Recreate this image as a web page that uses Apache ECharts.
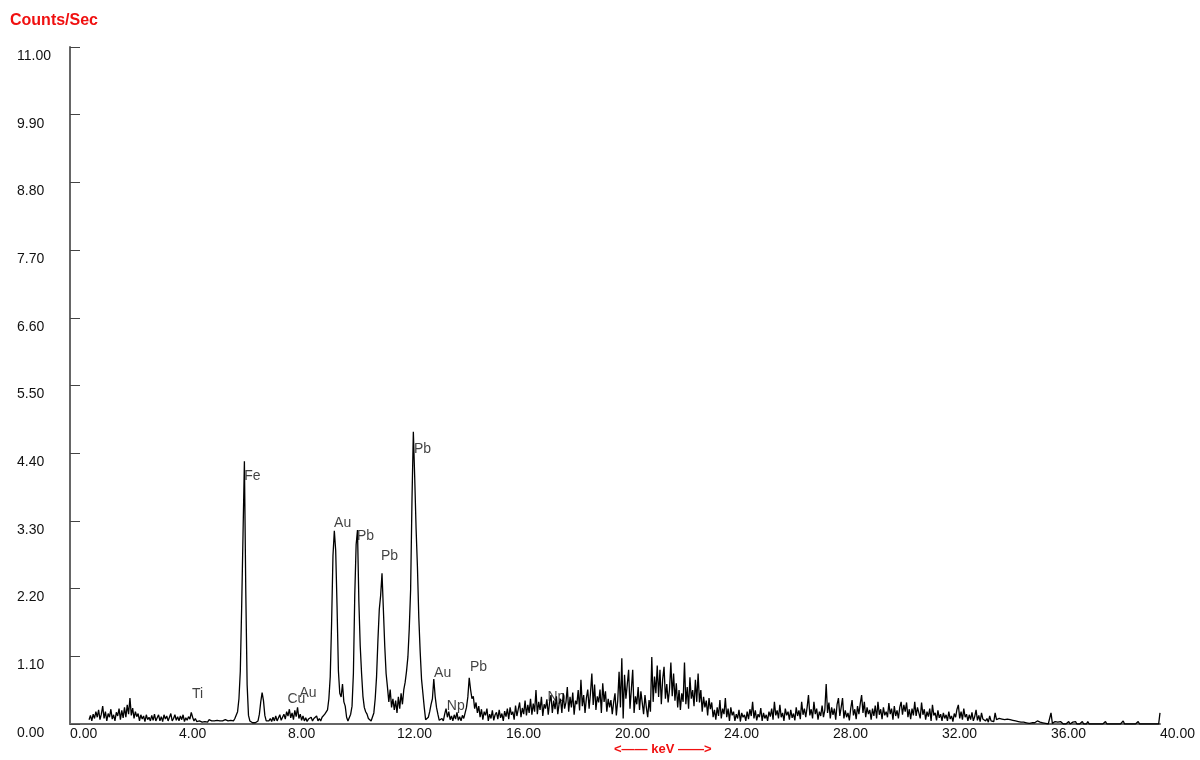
<!DOCTYPE html>
<html>
<head>
<meta charset="utf-8">
<script src="https://cdn.jsdelivr.net/npm/echarts@6/dist/echarts.min.js"></script>
<style>
  html, body { margin: 0; padding: 0; background: #fff; }
  #chart { width: 1200px; height: 760px; }
</style>
</head>
<body>
<div id="chart"></div>
<script>
// spectrum channels: first channel at 0.70 keV, 0.05 keV per channel
const KEV_START = 0.7;
const KEV_STEP = 0.05;

// 0.70 - 9.95 keV (Fe, Cu, Au region)
const countsLow = [
  0.07,0.14,0.05,0.16,0.09,0.20,
  0.11,0.23,0.07,0.16,0.29,0.09,0.20,0.05,0.17,0.11,0.24,0.08,0.15,0.05,0.19,0.13,0.25,0.07,0.22,0.10,
  0.27,0.11,0.31,0.16,0.42,0.14,0.26,0.09,0.20,0.12,0.17,0.05,0.15,0.08,0.13,0.04,0.15,0.07,0.11,0.05,
  0.14,0.06,0.16,0.05,0.10,0.15,0.05,0.12,0.04,0.15,0.08,0.13,0.05,0.11,0.17,0.05,0.09,0.15,0.06,0.12,
  0.05,0.13,0.07,0.15,0.04,0.10,0.06,0.12,0.08,0.19,0.11,0.05,0.09,0.04,0.07,0.05,0.08,0.03,0.06,0.04,
  0.05,0.03,0.07,0.04,0.05,0.02,0.05,0.03,0.06,0.04,0.05,0.02,0.05,0.03,0.07,0.04,0.05,0.03,0.06,0.05,
  0.05,0.09,0.11,0.20,0.41,0.86,1.91,3.09,4.27,2.18,0.64,0.14,0.05,0.03,0.02,0.03,0.02,0.04,0.05,0.16,
  0.36,0.51,0.38,0.14,0.05,0.03,0.05,0.09,0.04,0.11,0.05,0.13,0.05,0.08,0.15,0.06,0.11,0.16,0.08,0.20,
  0.13,0.24,0.10,0.18,0.07,0.22,0.12,0.27,0.09,0.16,0.06,0.13,0.05,0.10,0.04,0.08,0.05,0.11,0.05,0.09,
  0.07,0.13,0.05,0.09,0.05,0.11,0.08,0.16,0.14,0.23,0.41,0.77,1.64,2.73,3.14,2.82,1.91,0.86,0.50,0.44
];

// 10.00 - 24.95 keV (Pb lines and the broad hump)
const countsMid = [
  0.65,0.36,0.29,0.11,0.05,0.08,0.16,0.29,0.82,2.09,2.91,3.15,2.00,1.27,0.82,0.45,0.27,0.20,0.16,0.09,
  0.07,0.05,0.08,0.18,0.41,0.77,1.36,1.86,2.09,2.45,1.86,1.27,0.82,0.60,0.36,0.56,0.27,0.41,0.23,0.38,
  0.18,0.44,0.25,0.50,0.32,0.56,0.68,0.86,1.09,1.55,2.18,3.64,4.75,4.00,3.18,2.55,1.73,1.18,0.73,0.50,
  0.27,0.07,0.05,0.11,0.20,0.32,0.41,0.73,0.45,0.27,0.16,0.06,0.04,0.09,0.05,0.16,0.25,0.11,0.20,0.07,
  0.13,0.05,0.15,0.08,0.19,0.06,0.12,0.05,0.14,0.09,0.18,0.27,0.44,0.75,0.56,0.41,0.45,0.25,0.35,0.18,
  0.29,0.11,0.24,0.07,0.20,0.14,0.25,0.05,0.16,0.09,0.22,0.06,0.15,0.19,0.08,0.23,0.10,0.17,0.05,0.21,
  0.12,0.25,0.08,0.27,0.15,0.20,0.07,0.30,0.13,0.24,0.35,0.11,0.26,0.16,0.38,0.14,0.31,0.18,0.41,0.15,
  0.33,0.20,0.55,0.16,0.36,0.23,0.44,0.13,0.32,0.25,0.40,0.15,0.35,0.47,0.18,0.38,0.24,0.45,0.16,0.33,
  0.41,0.18,0.50,0.25,0.35,0.60,0.20,0.44,0.27,0.51,0.15,0.38,0.32,0.55,0.22,0.72,0.29,0.47,0.18,0.42,
  0.56,0.25,0.50,0.82,0.31,0.64,0.23,0.45,0.35,0.56,0.18,0.66,0.36,0.53,0.20,0.41,0.27,0.39,0.16,0.35,
  0.50,0.14,0.38,0.85,0.27,1.07,0.09,0.80,0.41,0.64,0.88,0.25,0.56,0.88,0.18,0.45,0.32,0.60,0.23,0.53,
  0.55,0.16,0.47,0.27,0.11,0.39,0.20,1.09,0.36,0.77,0.50,0.95,0.44,0.88,0.32,0.73,0.93,0.41,0.65,0.35,
  0.56,1.00,0.45,0.82,0.38,0.66,0.27,0.55,0.23,0.50,0.36,1.00,0.32,0.60,0.25,0.76,0.41,0.55,0.29,0.72,
  0.36,0.82,0.35,0.55,0.20,0.44,0.27,0.38,0.14,0.42,0.24,0.35,0.11,0.23,0.07,0.27,0.13,0.39,0.09,0.25,
  0.16,0.42,0.11,0.25,0.05,0.27,0.14,0.20,0.05,0.16,0.09,0.23,0.04,0.18,0.11,0.15,0.05,0.20,0.08,0.24
];

// 25.00 - 40.00 keV (tail)
const countsHigh = [
  0.13,0.36,0.09,0.22,0.06,0.16,0.11,0.26,0.05,0.18,0.09,0.15,0.05,0.20,0.12,0.25,0.07,0.36,0.14,0.22,
  0.09,0.31,0.11,0.18,0.05,0.25,0.14,0.20,0.07,0.23,0.10,0.17,0.06,0.27,0.13,0.22,0.08,0.36,0.15,0.25,
  0.11,0.27,0.47,0.14,0.24,0.09,0.36,0.16,0.25,0.07,0.20,0.13,0.30,0.11,0.23,0.65,0.18,0.35,0.09,0.27,
  0.15,0.25,0.07,0.32,0.42,0.13,0.27,0.42,0.09,0.22,0.11,0.18,0.06,0.25,0.39,0.14,0.24,0.08,0.29,0.16,
  0.33,0.47,0.18,0.36,0.11,0.27,0.16,0.23,0.07,0.25,0.13,0.30,0.09,0.36,0.15,0.24,0.08,0.27,0.14,0.20,
  0.11,0.34,0.16,0.25,0.07,0.29,0.13,0.22,0.09,0.27,0.36,0.15,0.31,0.20,0.35,0.11,0.24,0.08,0.25,0.14,
  0.36,0.13,0.27,0.18,0.09,0.35,0.15,0.24,0.07,0.20,0.12,0.25,0.05,0.31,0.14,0.18,0.06,0.22,0.10,0.16,
  0.05,0.18,0.09,0.15,0.05,0.20,0.08,0.13,0.04,0.17,0.11,0.24,0.31,0.09,0.20,0.07,0.25,0.11,0.16,0.05,
  0.15,0.07,0.19,0.05,0.12,0.23,0.06,0.14,0.04,0.18,0.08,0.11,0.05,0.09,0.03,0.13,0.05,0.08,0.04,0.18,
  0.07,0.05,0.09,0.06,0.08,0.05,0.07,0.06,0.08,0.05,0.07,0.05,0.06,0.03,0.05,0.02,0.04,0.02,0.03,0.01,
  0.03,0.01,0.02,0.04,0.01,0.03,0.02,0.05,0.02,0.04,0.05,0.02,0.03,0.01,0.02,0.04,0.01,0.02,0.00,0.02,
  0.18,0.01,0.02,0.04,0.01,0.03,0.00,0.04,0.01,0.00,0.03,0.00,0.01,0.04,0.00,0.00,0.03,0.00,0.04,0.00,
  0.03,0,0,0.04,0,0.03,0,0.04,0,0,0,0,0,0,0,0,0,0,0,0,
  0.04,0,0,0,0,0,0,0,0,0,0,0,0,0.05,0,0,0,0,0,0,
  0,0,0,0,0.04,0,0,0,0,0,0,0,0,0,0,0,0,0,0,0,
  0.18
];

// element markers
const peakNames  = ['Ti', 'Fe', 'Cu', 'Au', 'Au', 'Pb', 'Pb', 'Pb', 'Au', 'Np', 'Pb', 'Np'];
const peakKeV    = [4.48, 6.39, 7.98, 8.42, 9.69, 10.53, 11.41, 12.62, 13.36, 13.83, 14.68, 17.52];
const peakLabelY = [0.49, 4.03, 0.41, 0.50, 3.27, 3.05, 2.73, 4.47, 0.83, 0.29, 0.93, 0.44];

const counts = countsLow.concat(countsMid, countsHigh);
const spectrum = counts.map((c, i) => [+(KEV_START + i * KEV_STEP).toFixed(2), c]);
const markers = peakNames.map((n, i) => ({ name: n, value: [peakKeV[i], peakLabelY[i]] }));

var chart = echarts.init(document.getElementById('chart'));
const FONT = 'Liberation Sans, Arial, sans-serif';
const axisFont = { fontFamily: FONT, fontSize: 14, color: '#111' };

chart.setOption({
  animation: false,
  backgroundColor: '#fff',
  title: {
    text: 'Counts/Sec',
    left: 10,
    top: 13,
    padding: 0,
    textStyle: { color: '#f01010', fontSize: 16, fontWeight: 'bold', fontFamily: FONT }
  },
  grid: { left: 70, right: 40, top: 47, bottom: 36 },
  xAxis: {
    type: 'value',
    min: 0,
    max: 40,
    interval: 4,
    axisLine: { lineStyle: { color: '#666', width: 2 } },
    axisTick: { show: false },
    splitLine: { show: false },
    axisLabel: Object.assign({
      align: 'left',
      margin: 3,
      formatter: v => v.toFixed(2)
    }, axisFont)
  },
  yAxis: {
    type: 'value',
    min: 0,
    max: 11,
    interval: 1.1,
    axisLine: { show: true, lineStyle: { color: '#666', width: 2 } },
    axisTick: { show: true, inside: true, length: 10, lineStyle: { color: '#444', width: 1 } },
    splitLine: { show: false },
    axisLabel: Object.assign({
      align: 'left',
      verticalAlign: 'top',
      padding: [2, 0, 0, 0],
      margin: 53,
      formatter: v => v.toFixed(2)
    }, axisFont)
  },
  graphic: [{
    type: 'text',
    left: 614,
    top: 743,
    style: { text: '<—— keV ——>', fill: '#f01010', font: 'bold 13px "Liberation Sans", Arial, sans-serif' }
  }],
  series: [
    {
      type: 'scatter',
      z: 1,
      symbolSize: 0,
      data: markers,
      label: {
        show: true,
        position: 'right',
        distance: 0,
        formatter: p => p.name,
        color: '#111',
        fontSize: 14,
        fontFamily: FONT
      }
    },
    {
      type: 'line',
      z: 2,
      data: spectrum,
      showSymbol: false,
      sampling: null,
      lineStyle: { color: '#000', width: 1.3 }
    }
  ]
});
</script>
</body>
</html>
